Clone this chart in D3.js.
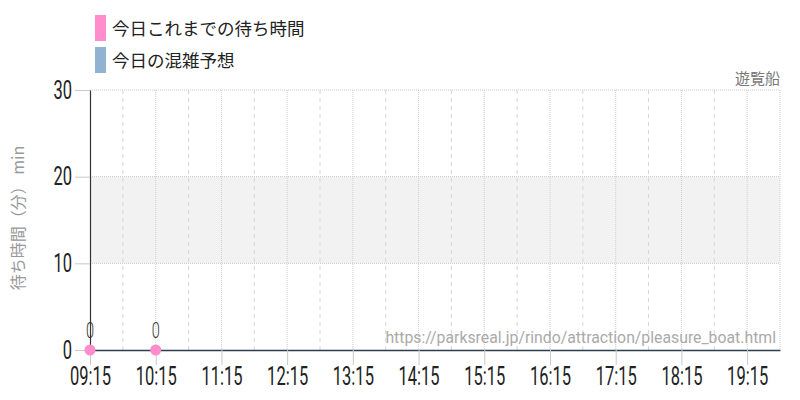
<!DOCTYPE html>
<html lang="ja">
<head>
<meta charset="UTF-8">
<title>遊覧船</title>
<script src="https://d3js.org/d3.v7.min.js"></script>
<style>
  body { margin: 0; background: #fff; }
  .num { font-family: Roboto, sans-serif; }
  .jp { font-family: "Noto Sans CJK JP", sans-serif; }
</style>
</head>
<body>
<div id="chart"></div>
<script>
// 今日これまでの待ち時間
const waitTimes = ["09:15", "10:15"];
const waitValues = [0, 0];
// x 軸ラベル
const hourTicks = ["09:15", "10:15", "11:15", "12:15", "13:15", "14:15", "15:15", "16:15", "17:15", "18:15", "19:15"];
const halfTicks = ["09:45", "10:45", "11:45", "12:45", "13:45", "14:45", "15:45", "16:45", "17:45", "18:45"];
const yTicks = [0, 10, 20, 30];
const band = [10, 20];
const legendItems = ["今日これまでの待ち時間", "今日の混雑予想"];
const legendColors = ["#ff8ccc", "#8fb3d1"];

const width = 800, height = 400;
const margin = { top: 90, right: 20, bottom: 50, left: 90 };
const squeeze = 0.66; // 細い数字フォントの代わり

const parse = d3.timeParse("%H:%M");
const fmt = d3.timeFormat("%H:%M");

const svg = d3.select("#chart").append("svg")
  .attr("width", width).attr("height", height);

const x = d3.scaleTime()
  .domain([parse("09:15"), parse("19:45")])
  .range([margin.left, width - margin.right]);
const y = d3.scaleLinear()
  .domain([0, 30])
  .range([height - margin.bottom, margin.top]);

// 10-20 の帯
svg.append("rect")
  .attr("x", x.range()[0]).attr("width", x.range()[1] - x.range()[0])
  .attr("y", y(band[1])).attr("height", y(band[0]) - y(band[1]))
  .attr("fill", "#f2f2f2");

// 縦グリッド
svg.append("g").selectAll("line").data(halfTicks).enter().append("line")
  .attr("x1", d => x(parse(d))).attr("x2", d => x(parse(d)))
  .attr("y1", y(30)).attr("y2", y(0))
  .attr("stroke", "#d6d6d6").attr("stroke-dasharray", "4,4");
svg.append("g").selectAll("line").data(hourTicks.slice(1).concat(["19:45"])).enter().append("line")
  .attr("x1", d => x(parse(d))).attr("x2", d => x(parse(d)))
  .attr("y1", y(30)).attr("y2", y(0))
  .attr("stroke", "#cfcfcf").attr("stroke-dasharray", "1,1");

// 横グリッド
svg.append("g").selectAll("line").data(yTicks.slice(1)).enter().append("line")
  .attr("x1", x.range()[0]).attr("x2", x.range()[1])
  .attr("y1", d => y(d)).attr("y2", d => y(d))
  .attr("stroke", "#c8c8c8").attr("stroke-dasharray", "1,1");

// y 軸
const yAxis = svg.append("g")
  .attr("transform", `translate(${margin.left},0)`)
  .call(d3.axisLeft(y).tickValues(yTicks).tickSize(15).tickSizeOuter(0).tickPadding(3));
yAxis.select(".domain").attr("stroke", "#333").attr("stroke-width", 1.2);
yAxis.selectAll(".tick line").attr("stroke", "#c8c8c8");
yAxis.selectAll(".tick text").attr("class", "num").attr("font-size", 25).attr("fill", "#222")
  .attr("x", -18 / squeeze).attr("transform", `scale(${squeeze},1)`);

// x 軸
const xAxis = svg.append("g")
  .attr("transform", `translate(0,${y(0)})`)
  .call(d3.axisBottom(x).tickValues(hourTicks.map(parse)).tickFormat(fmt).tickSize(15).tickSizeOuter(0).tickPadding(2));
xAxis.select(".domain").attr("stroke", "#2c3e50").attr("stroke-width", 1.5);
xAxis.selectAll(".tick line").attr("stroke", "#c8c8c8");
xAxis.selectAll(".tick text").attr("class", "num").attr("font-size", 25).attr("fill", "#222")
  .attr("transform", `scale(${squeeze},1)`);

// URL
svg.append("text")
  .attr("x", width - 24).attr("y", y(0) - 7)
  .attr("text-anchor", "end")
  .attr("font-family", "Roboto, sans-serif").attr("font-size", 15.8)
  .attr("fill", "#aaa")
  .text("https://parksreal.jp/rindo/attraction/pleasure_boat.html");

// 点
svg.append("g").selectAll("circle").data(waitTimes).enter().append("circle")
  .attr("cx", d => x(parse(d))).attr("cy", (d, i) => y(waitValues[i]))
  .attr("r", 5.5).attr("fill", legendColors[0]);
svg.append("g").selectAll("text").data(waitTimes).enter().append("text")
  .attr("class", "num")
  .attr("transform", (d, i) => `translate(${x(parse(d))},${y(waitValues[i]) - 12}) scale(${squeeze},1)`)
  .attr("text-anchor", "middle").attr("font-size", 22).attr("font-weight", 300).attr("fill", "#333")
  .text((d, i) => waitValues[i]);

// タイトル
svg.append("text")
  .attr("class", "jp")
  .attr("x", width - 20).attr("y", 84)
  .attr("text-anchor", "end").attr("font-size", 15).attr("fill", "#777")
  .text("遊覧船");

// y 軸ラベル
svg.append("text")
  .attr("class", "jp")
  .attr("transform", `translate(24,${(y(0) + y(30)) / 2 - 2}) rotate(-90)`)
  .attr("text-anchor", "middle").attr("font-size", 16).attr("fill", "#999")
  .text("待ち時間（分） min");

// 凡例
const legend = svg.append("g").selectAll("g").data(legendItems).enter().append("g")
  .attr("transform", (d, i) => `translate(95,${15 + i * 32})`);
legend.append("rect").attr("width", 11).attr("height", 26)
  .attr("fill", (d, i) => legendColors[i]);
legend.append("text")
  .attr("class", "jp")
  .attr("x", 17).attr("y", 20)
  .attr("font-size", 17.5).attr("fill", "#222")
  .text(d => d);
</script>
</body>
</html>
